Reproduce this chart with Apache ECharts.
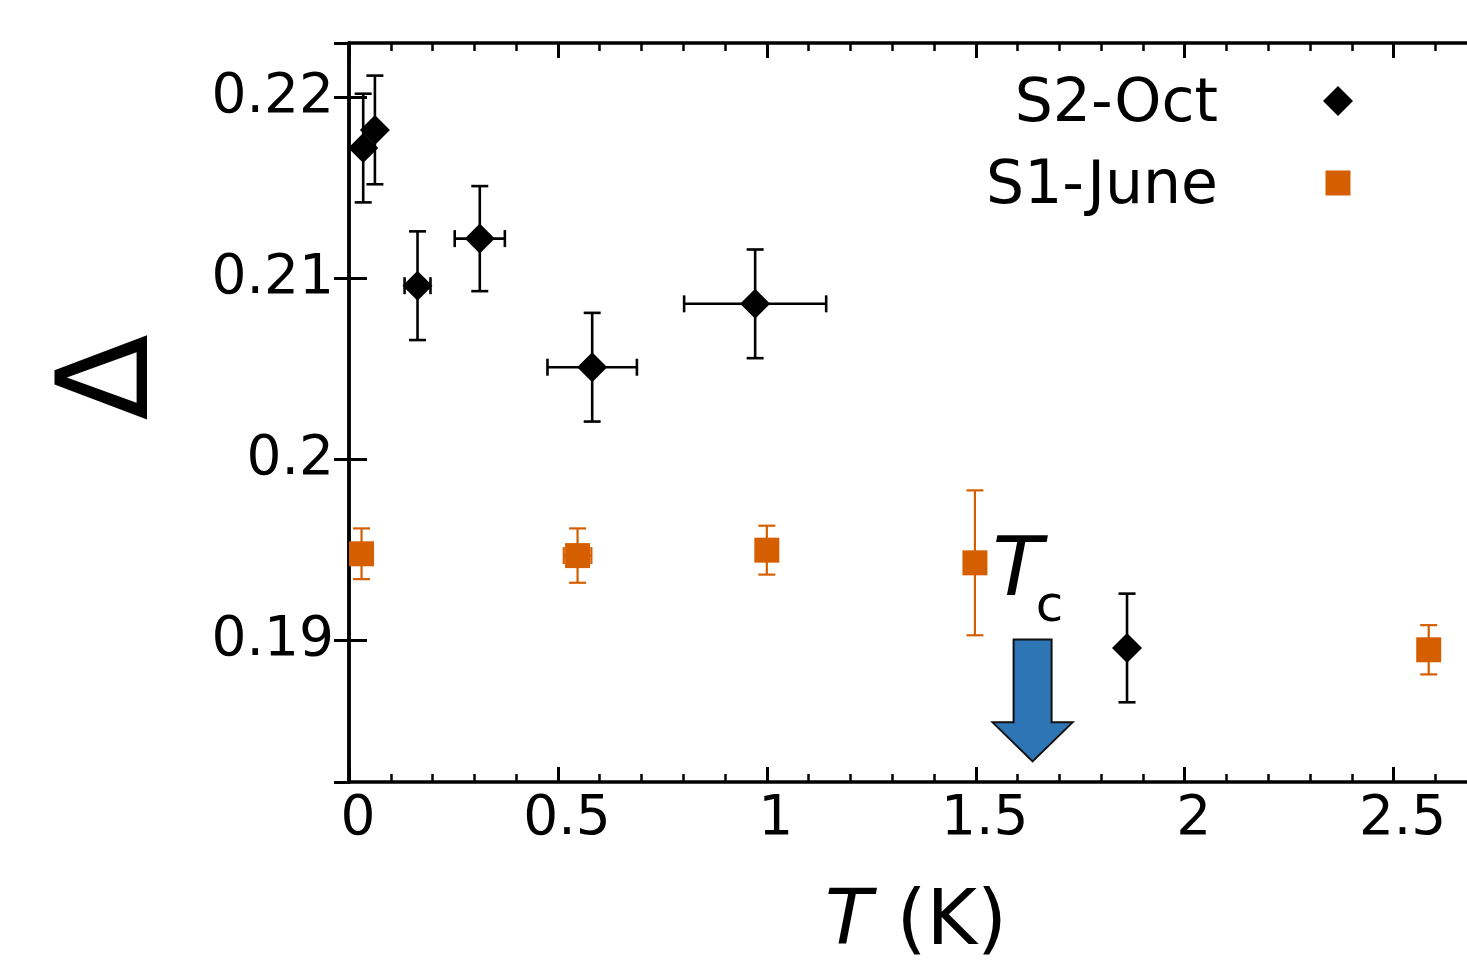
<!DOCTYPE html>
<html>
<head>
<meta charset="utf-8">
<style>
  html, body { margin: 0; padding: 0; background: #fff; }
  #chart { width: 1467px; height: 960px; }
</style>
<script src="https://cdn.jsdelivr.net/npm/echarts@6/dist/echarts.min.js"></script>
</head>
<body>
<div id="chart"></div>
<script>
// S2-Oct (black diamonds)
const octT = [0.034, 0.062, 0.164, 0.313, 0.582, 0.972, 1.862];
const octDelta = [0.2172, 0.2182, 0.2096, 0.2122, 0.2051, 0.2086, 0.1896];
const octTErr = [0, 0, 0.031, 0.06, 0.107, 0.17, 0];
const octDeltaErr = [0.003, 0.003, 0.003, 0.0029, 0.003, 0.003, 0.003];

// S1-June (orange squares)
const juneT = [0.030, 0.547, 1.0, 1.498, 2.584];
const juneDelta = [0.1948, 0.1947, 0.1950, 0.1943, 0.1895];
const juneTErr = [0, 0.033, 0, 0, 0];
const juneDeltaErr = [0.0014, 0.0015, 0.00135, 0.004, 0.00136];

// Tc marker (arrow), in data units
const tcArrow = { T: 1.636, tip: 0.18334, top: 0.19007 };

const xMin = 0, xMax = 2.69;
const yMin = 0.1822, yMax = 0.2230;

const FONT = '"DejaVu Sans", Verdana, sans-serif';
const ORANGE = '#d55e00';

const chart = echarts.init(document.getElementById('chart'));

function errorBars(color, width) {
  return function (params, api) {
    const x = api.value(0), y = api.value(1), dx = api.value(2), dy = api.value(3);
    const c = api.coord([x, y]);
    const cap = 8.5;
    const style = { stroke: color, lineWidth: width };
    const kids = [];
    if (dy > 0) {
      const t = api.coord([x, y + dy])[1], b = api.coord([x, y - dy])[1];
      kids.push({ type: 'line', shape: { x1: c[0], y1: t, x2: c[0], y2: b }, style });
      kids.push({ type: 'line', shape: { x1: c[0] - cap, y1: t, x2: c[0] + cap, y2: t }, style });
      kids.push({ type: 'line', shape: { x1: c[0] - cap, y1: b, x2: c[0] + cap, y2: b }, style });
    }
    if (dx > 0) {
      const l = api.coord([x - dx, y])[0], r = api.coord([x + dx, y])[0];
      kids.push({ type: 'line', shape: { x1: l, y1: c[1], x2: r, y2: c[1] }, style });
      kids.push({ type: 'line', shape: { x1: l, y1: c[1] - cap, x2: l, y2: c[1] + cap }, style });
      kids.push({ type: 'line', shape: { x1: r, y1: c[1] - cap, x2: r, y2: c[1] + cap }, style });
    }
    return { type: 'group', children: kids };
  };
}

const frameLine = { color: '#000', width: 3.5 };

function xAxisDef(position, major) {
  return {
    type: 'value', position, min: xMin, max: xMax,
    interval: major ? 0.5 : 0.1,
    axisLine: { show: major, lineStyle: frameLine },
    axisTick: { inside: true, length: major ? 15 : 8, lineStyle: { color: '#000', width: major ? 3 : 2.5 } },
    axisLabel: {
      show: major && position === 'bottom', showMaxLabel: false,
      color: '#000', fontFamily: FONT, fontSize: 55, margin: 10, padding: [0, 0, 0, 18]
    },
    splitLine: { show: false }
  };
}

function yAxisDef(position) {
  return {
    type: 'value', position, min: yMin, max: yMax, splitNumber: 4,
    axisLine: { show: true, lineStyle: frameLine },
    axisTick: { inside: true, length: position === 'left' ? 18 : 15, lineStyle: { color: '#000', width: 3 } },
    axisLabel: {
      show: position === 'left', showMinLabel: false, showMaxLabel: false,
      color: '#000', fontFamily: FONT, fontSize: 55, margin: 15
    },
    splitLine: { show: false }
  };
}

const xAxes = [xAxisDef('bottom', true), xAxisDef('bottom', false), xAxisDef('top', true), xAxisDef('top', false)];
xAxes[0].name = '{i|T} (K)';
xAxes[0].nameLocation = 'middle';
xAxes[0].nameGap = 103;
xAxes[0].nameTextStyle = {
  color: '#000', fontFamily: FONT, fontSize: 77, padding: [0, 0, 0, 10],
  rich: { i: { fontStyle: 'italic', fontFamily: FONT, fontSize: 77, color: '#000' } }
};

const yAxes = [yAxisDef('left'), yAxisDef('right')];
yAxes[0].name = 'Δ';
yAxes[0].nameLocation = 'middle';
yAxes[0].nameRotate = 90;
yAxes[0].nameGap = 172;
yAxes[0].nameTextStyle = { color: '#000', fontFamily: FONT, fontSize: 126, padding: [0, 0, 0, 70] };

chart.setOption({
  animation: false,
  backgroundColor: '#fff',
  grid: { left: 349, top: 43, right: -6, bottom: 178, containLabel: false, outerBoundsMode: 'none' },
  xAxis: xAxes,
  yAxis: yAxes,
  legend: {
    data: [
      { name: 'S2-Oct', icon: 'path://M0,0 M30,38 M15,0 L30,15 L15,30 L0,15 Z' },
      { name: 'S1-June', icon: 'path://M0,0 M30,38 M2.5,2.5 L27.5,2.5 L27.5,27.5 L2.5,27.5 Z' }
    ],
    orient: 'vertical', align: 'right',
    right: 114, top: 75, padding: 0,
    itemWidth: 30, itemHeight: 38, itemGap: 22,
    textStyle: { color: '#000', fontFamily: FONT, fontSize: 60, lineHeight: 60, padding: [0, 100, 0, 0] }
  },
  series: [
    {
      name: 'S2-Oct error', type: 'custom', xAxisIndex: 0, yAxisIndex: 0,
      renderItem: errorBars('#000', 2.6), encode: { x: 0, y: 1 }, z: 1,
      data: octT.map((t, i) => [t, octDelta[i], octTErr[i], octDeltaErr[i]])
    },
    {
      name: 'S1-June error', type: 'custom', xAxisIndex: 0, yAxisIndex: 0,
      renderItem: errorBars(ORANGE, 2.2), encode: { x: 0, y: 1 }, z: 1,
      data: juneT.map((t, i) => [t, juneDelta[i], juneTErr[i], juneDeltaErr[i]])
    },
    {
      name: 'S2-Oct', type: 'scatter', xAxisIndex: 0, yAxisIndex: 0,
      symbol: 'diamond', symbolSize: 30, itemStyle: { color: '#000', opacity: 1 }, z: 3,
      data: octT.map((t, i) => [t, octDelta[i]])
    },
    {
      name: 'S1-June', type: 'scatter', xAxisIndex: 0, yAxisIndex: 0,
      symbol: 'rect', symbolSize: 25, itemStyle: { color: ORANGE, opacity: 1 }, z: 3,
      data: juneT.map((t, i) => [t, juneDelta[i]])
    }
  ]
});

// Tc arrow and label
const tipPx = chart.convertToPixel({ gridIndex: 0 }, [tcArrow.T, tcArrow.tip]);
const topPx = chart.convertToPixel({ gridIndex: 0 }, [tcArrow.T, tcArrow.top]);
const sx = 19, hx = 40, hl = 39;
chart.setOption({
  graphic: [
    {
      type: 'polygon', z: 10,
      shape: {
        points: [
          [tipPx[0] - sx, topPx[1]], [tipPx[0] + sx, topPx[1]], [tipPx[0] + sx, tipPx[1] - hl],
          [tipPx[0] + hx, tipPx[1] - hl], [tipPx[0], tipPx[1]], [tipPx[0] - hx, tipPx[1] - hl],
          [tipPx[0] - sx, tipPx[1] - hl]
        ]
      },
      style: { fill: '#2e75b6', stroke: '#111', lineWidth: 2 }
    },
    {
      type: 'text', z: 10, x: tipPx[0] - 40, y: tipPx[1] - 188,
      style: { text: 'T', font: 'italic 82px ' + FONT, fill: '#000', align: 'left', verticalAlign: 'middle' }
    },
    {
      type: 'text', z: 10, x: tipPx[0] + 17, y: tipPx[1] - 153,
      style: { text: 'c', font: '50px ' + FONT, fill: '#000', align: 'center', verticalAlign: 'middle' }
    }
  ]
});
</script>
</body>
</html>
